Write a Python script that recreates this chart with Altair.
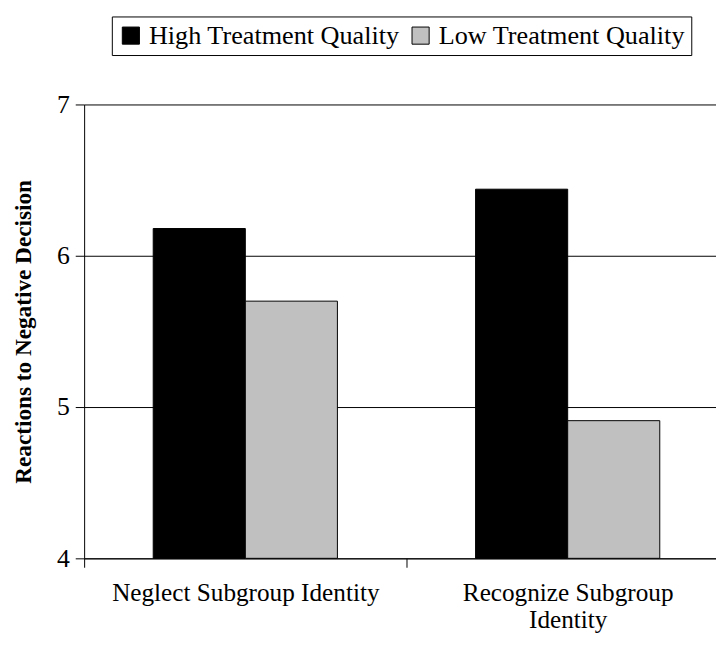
import altair as alt
import pandas as pd

categories = ["Neglect Subgroup Identity", "Recognize Subgroup Identity"]
series = ["High Treatment Quality", "Low Treatment Quality"]
high_values = [6.18, 6.44]
low_values = [5.70, 4.91]
y_ticks = [4, 5, 6, 7]
colors = ["#000000", "#c0c0c0"]

rows = []
for c, h, l in zip(categories, high_values, low_values):
    rows.append({"condition": c, "series": series[0], "value": h})
    rows.append({"condition": c, "series": series[1], "value": l})
df = pd.DataFrame(rows)

FONT = "Liberation Serif"

chart = alt.Chart(df).mark_bar(stroke="black", strokeWidth=1).encode(
    x=alt.X(
        "condition:N",
        sort=categories,
        scale=alt.Scale(domain=categories, range=[0, 652], paddingInner=0, paddingOuter=0),
        axis=alt.Axis(
            title=None,
            labelAngle=0,
            tickBand="extent",
            tickSize=9,
            tickColor="black",
            domainColor="black",
            labelFont=FONT,
            labelFontSize=25.5,
            labelColor="black",
            labelPadding=14,
            labelLineHeight=27,
            labelLimit=0,
            labelExpr="datum.value == 'Recognize Subgroup Identity' ? ['Recognize Subgroup', 'Identity'] : datum.label",
        ),
    ),
    xOffset=alt.XOffset(
        "series:N",
        sort=series,
        scale=alt.Scale(domain=series, paddingInner=0, paddingOuter=0.75),
    ),
    y=alt.Y(
        "value:Q",
        scale=alt.Scale(domain=[4, 7], nice=False, zero=False),
        axis=alt.Axis(
            title="Reactions to Negative Decision",
            values=y_ticks,
            grid=True,
            gridColor="black",
            gridWidth=1,
            gridOpacity=1,
            tickSize=9,
            tickColor="black",
            domainColor="black",
            labelFont=FONT,
            labelFontSize=26,
            labelColor="black",
            labelPadding=6,
            titleFont=FONT,
            titleFontSize=23.5,
            titleFontWeight="bold",
            titleColor="black",
            titlePadding=21,
        ),
    ),
    y2=alt.datum(4),
    color=alt.Color(
        "series:N",
        sort=series,
        scale=alt.Scale(domain=series, range=colors),
        legend=alt.Legend(
            title=None,
            orient="none",
            legendX=28,
            legendY=-89,
            direction="horizontal",
            symbolType="square",
            symbolSize=300,
            symbolStrokeColor="black",
            symbolStrokeWidth=1,
            symbolOpacity=1,
            labelFont=FONT,
            labelFontSize=26.5,
            labelColor="black",
            labelOffset=5,
            labelLimit=0,
            columnPadding=7,
            strokeColor="black",
            fillColor="white",
            padding=6,
        ),
    ),
).properties(
    width=639,
    height=459,
    autosize=alt.AutoSizeParams(type="none"),
    padding={"left": 77, "top": 94, "right": 0, "bottom": 77},
).configure_view(stroke=None)

chart.save("out.html", embed_options={"renderer": "svg", "actions": False})
